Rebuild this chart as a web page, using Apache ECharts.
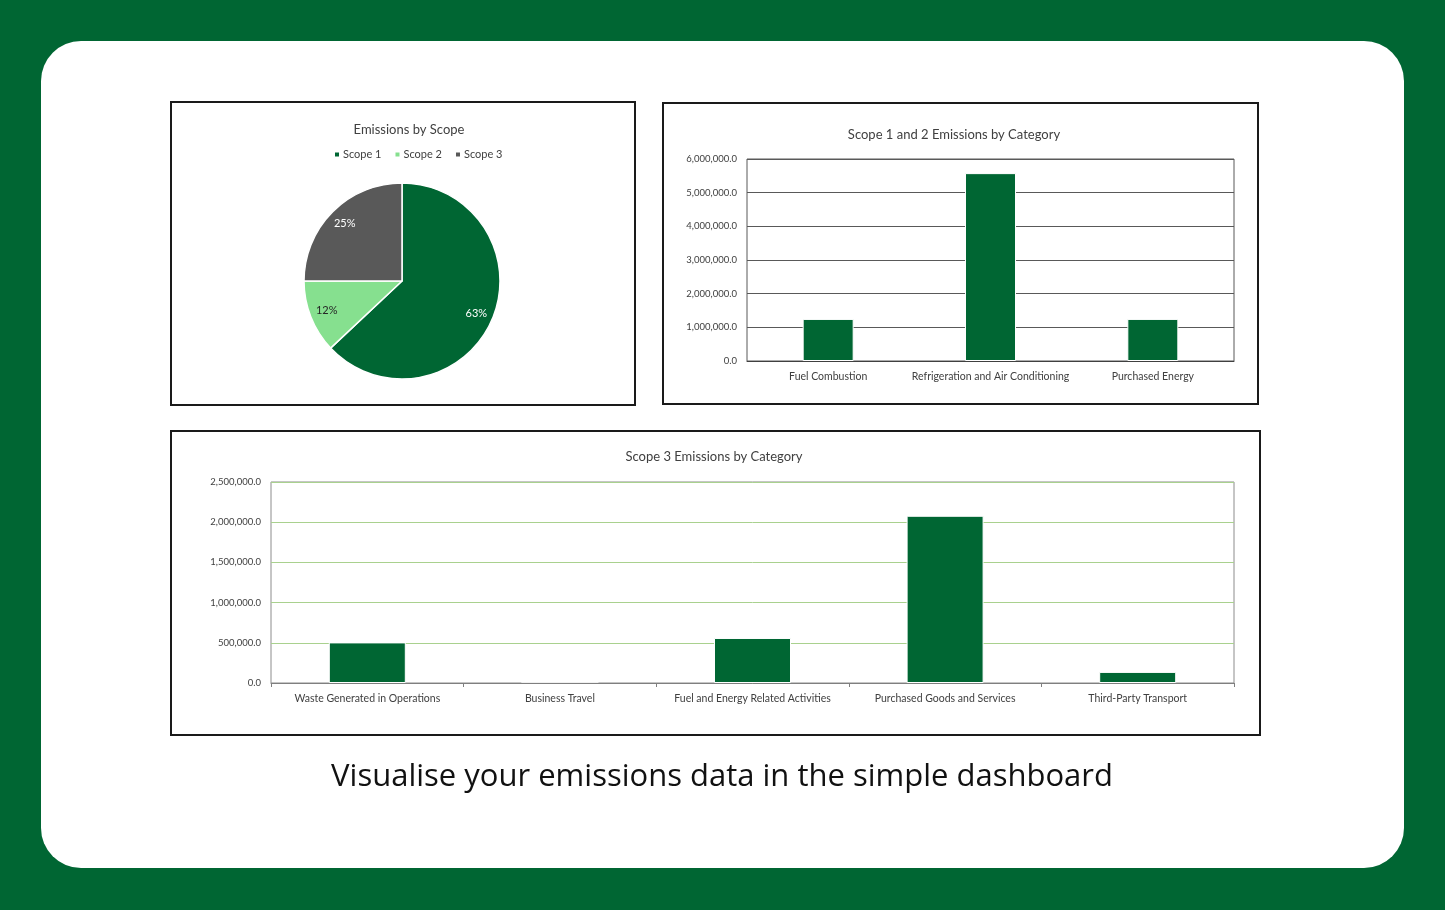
<!DOCTYPE html>
<html><head><meta charset="utf-8">
<script src="https://cdn.jsdelivr.net/npm/echarts@6/dist/echarts.min.js"></script>
<style>html,body{margin:0;padding:0;background:#006633;}#c{width:1445px;height:910px;}</style>
</head><body><div id="c"></div>
<script>
// ---- data ----
const scopeNames = ['Scope 1', 'Scope 2', 'Scope 3'];
const scopeShares = [63, 12, 25];
const scope12Categories = ['Fuel Combustion', 'Refrigeration and Air Conditioning', 'Purchased Energy'];
const scope12Values = [1250000, 5580000, 1250000];
const scope3Categories = ['Waste Generated in Operations', 'Business Travel', 'Fuel and Energy Related Activities', 'Purchased Goods and Services', 'Third-Party Transport'];
const scope3Values = [505000, 0, 560000, 2080000, 138000];
const caption = 'Visualise your emissions data in the simple dashboard';

const scopeColors = ['#006633', '#86E08F', '#595959'];
const FONT = 'Lato';
const fmt = v => Number(v).toLocaleString('en-US', {minimumFractionDigits: 1, maximumFractionDigits: 1});

const chart = echarts.init(document.getElementById('c'), null, {renderer: 'canvas'});
const pieData = scopeNames.map((n, i) => ({name: n, value: scopeShares[i], itemStyle: {color: scopeColors[i]}}));

chart.setOption({
  backgroundColor: 'transparent',
  animation: false,
  textStyle: {fontFamily: FONT},
  graphic: [
    {type: 'rect', z: -20, silent: true, shape: {x: 41, y: 41, width: 1363, height: 827, r: 40}, style: {fill: '#ffffff'}},
    {type: 'rect', z: -10, silent: true, shape: {x: 171, y: 102, width: 464, height: 303}, style: {fill: '#fff', stroke: '#1a1a1a', lineWidth: 2}},
    {type: 'rect', z: -10, silent: true, shape: {x: 663, y: 103, width: 595, height: 301}, style: {fill: '#fff', stroke: '#1a1a1a', lineWidth: 2}},
    {type: 'rect', z: -10, silent: true, shape: {x: 171, y: 431, width: 1089, height: 304}, style: {fill: '#fff', stroke: '#1a1a1a', lineWidth: 2}},
    {type: 'text', z: 10, silent: true, x: 722, y: 777, style: {text: caption, fill: '#111', font: '31px "Open Sans"', align: 'center', verticalAlign: 'middle'}}
  ],
  title: [
    {text: 'Emissions by Scope', left: 404, top: 118, textAlign: 'center', textStyle: {fontFamily: FONT, fontSize: 13, fontWeight: 'normal', color: '#404040'}},
    {text: 'Scope 1 and 2 Emissions by Category', left: 949, top: 123, textAlign: 'center', textStyle: {fontFamily: FONT, fontSize: 13, fontWeight: 'normal', color: '#404040'}},
    {text: 'Scope 3 Emissions by Category', left: 709, top: 445, textAlign: 'center', textStyle: {fontFamily: FONT, fontSize: 13, fontWeight: 'normal', color: '#404040'}}
  ],
  legend: {
    data: scopeNames, left: 328, top: 144, icon: 'rect', itemWidth: 6, itemHeight: 6, itemGap: 12,
    textStyle: {fontFamily: FONT, fontSize: 11, color: '#404040', padding: [0, 0, 0, -2]}
  },
  grid: [
    {left: 747, top: 159, width: 487, height: 202, show: true, borderColor: '#595959', borderWidth: 1, backgroundColor: 'transparent'},
    {left: 271, top: 482, width: 963, height: 201, show: true, borderColor: '#8c8c8c', borderWidth: 1, backgroundColor: 'transparent'}
  ],
  xAxis: [
    {gridIndex: 0, type: 'category', data: scope12Categories, axisTick: {show: false}, z: 5,
     axisLine: {lineStyle: {color: '#404040'}},
     axisLabel: {fontFamily: FONT, fontSize: 10.5, color: '#404040', margin: 10, interval: 0}},
    {gridIndex: 1, type: 'category', data: scope3Categories, z: 5, axisTick: {show: true, length: 4, lineStyle: {color: '#7f7f7f'}},
     axisLine: {lineStyle: {color: '#7f7f7f'}},
     axisLabel: {fontFamily: FONT, fontSize: 10.5, color: '#404040', margin: 10, interval: 0}}
  ],
  yAxis: [
    {gridIndex: 0, type: 'value', min: 0, max: 6000000, interval: 1000000,
     axisLine: {show: false}, axisTick: {show: false},
     splitLine: {lineStyle: {color: '#595959', width: 1}},
     axisLabel: {fontFamily: FONT, fontSize: 9.5, color: '#404040', formatter: fmt, margin: 10}},
    {gridIndex: 1, type: 'value', min: 0, max: 2500000, interval: 500000,
     axisLine: {show: false}, axisTick: {show: false},
     splitLine: {lineStyle: {color: '#a9d18e', width: 1}},
     axisLabel: {fontFamily: FONT, fontSize: 9.5, color: '#404040', formatter: fmt, margin: 10}}
  ],
  series: [
    {type: 'pie', center: [402, 281], radius: 98, startAngle: 90, clockwise: true,
     data: pieData, label: {show: false}, labelLine: {show: false},
     itemStyle: {borderColor: '#fff', borderWidth: 1.5}, silent: true},
    {type: 'pie', center: [402, 281], radius: [60, 96], startAngle: 90, clockwise: true, silent: true,
     data: pieData.map((d, i) => ({name: d.name, value: d.value, itemStyle: {color: 'rgba(0,0,0,0)'},
       label: {color: i === 1 ? '#262626' : '#ffffff'}})),
     label: {show: true, position: 'inside', formatter: '{c}%', fontFamily: FONT, fontSize: 11},
     labelLine: {show: false}, z: 3},
    {type: 'bar', xAxisIndex: 0, yAxisIndex: 0, data: scope12Values, barWidth: 51,
     itemStyle: {color: '#006633', borderColor: '#ffffff', borderWidth: 1}},
    {type: 'bar', xAxisIndex: 1, yAxisIndex: 1, data: scope3Values, barWidth: 77,
     itemStyle: {color: '#006633', borderColor: '#ffffff', borderWidth: 1}}
  ]
});
</script></body></html>
